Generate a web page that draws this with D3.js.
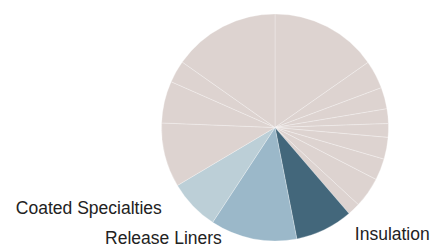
<!DOCTYPE html>
<html>
<head>
<meta charset="utf-8">
<script src="https://cdn.jsdelivr.net/npm/d3@7"></script>
<style>
  body { margin: 0; background: #fff; }
  svg { display: block; }
</style>
</head>
<body>
<div id="container"></div>
<script>
let w = 432;
let h = 248;

// slices in clockwise order from 12 o'clock
let segments = ['s1', 's2', 's3', 's4', 's5', 's6', 's7', 's8', 's9',
    'Insulation', 'Release Liners', 'Coated Specialties',
    's13', 's14', 's15', 's16'];
let values = [55, 14.5, 11, 7.5, 7, 11.2, 11, 15.6, 6.5,
    29.6, 44.4, 26,
    33, 21.5, 11.4, 54.8];
let labelled = ['Insulation', 'Release Liners', 'Coated Specialties'];

let colors = {
    'Insulation': '#43677b',
    'Release Liners': '#9bb8c9',
    'Coated Specialties': '#bccfd7'
};
let beige = '#ddd3d0';

let cx = 275;
let cy = 127.5;
let r = 113.5;

let viz = d3.select('#container').append('svg')
    .attr('width', w)
    .attr('height', h);

let pie = d3.pie().sort(null).value(d => d.value);
let arc = d3.arc().innerRadius(0).outerRadius(r);

let data = segments.map((s, i) => ({ name: s, value: values[i] }));
let arcs = pie(data);

let g = viz.append('g')
    .attr('transform', `translate(${cx},${cy})`);

g.selectAll('path')
    .data(arcs)
    .enter().append('path')
    .attr('d', arc)
    .attr('fill', d => colors[d.data.name] || beige)
    .attr('stroke', '#fff')
    .attr('stroke-opacity', 0.45)
    .attr('stroke-width', 0.6);

// label placement relative to the slice's outer edge
let labelOffset = {
    'Insulation': { dx: 25, dy: 0, anchor: 'start' },
    'Release Liners': { dx: -29, dy: -7, anchor: 'end' },
    'Coated Specialties': { dx: -22.5, dy: 0, anchor: 'end' }
};
let outer = d3.arc().innerRadius(r + 12).outerRadius(r + 12);

g.selectAll('text')
    .data(arcs.filter(d => labelled.includes(d.data.name)))
    .enter().append('text')
    .text(d => d.data.name)
    .attr('x', d => outer.centroid(d)[0] + labelOffset[d.data.name].dx)
    .attr('y', d => outer.centroid(d)[1] + labelOffset[d.data.name].dy)
    .attr('text-anchor', d => labelOffset[d.data.name].anchor)
    .attr('font-family', 'Liberation Sans, Arial, sans-serif')
    .attr('font-size', '17.5px')
    .attr('fill', '#222');
</script>
</body>
</html>
